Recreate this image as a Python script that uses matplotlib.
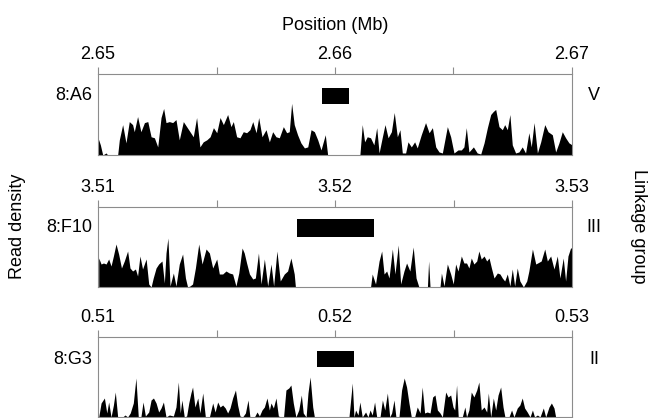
import numpy as np
import matplotlib
matplotlib.use('Agg')
import matplotlib.pyplot as plt

plt.rcParams['font.family'] = ['Liberation Sans', 'DejaVu Sans']

# clone names, linkage groups and windows (Mb)
clones = ['8:A6', '8:F10', '8:G3']
groups = ['V', 'III', 'II']
win_start = [2.65, 3.51, 0.51]
win_end = [2.67, 3.53, 0.53]
# insert (black box) extents, Mb
ins_start = [2.65945, 3.5184, 0.51924]
ins_end = [2.6606, 3.52165, 0.5208]

# read density profiles: position in kb from window start, density
a6_kb = [0.00, 0.10, 0.20, 0.34, 0.41, 0.83, 0.90, 1.04, 1.18, 1.32, 1.46, 1.53, 1.67, 1.81,
         1.96, 2.10, 2.24, 2.38, 2.52, 2.66, 2.77, 2.87, 3.01, 3.15, 3.29, 3.43, 3.60, 3.74,
         3.88, 4.02, 4.16, 4.30, 4.44, 4.59, 4.73, 4.87, 5.01, 5.15, 5.29, 5.47, 5.61, 5.71,
         5.85, 5.99, 6.13, 6.27, 6.41, 6.53, 6.67, 6.78, 6.92, 7.09, 7.23, 7.37, 7.51, 7.65,
         7.82, 7.96, 8.07, 8.17, 8.28, 8.42, 8.56, 8.71, 8.85, 8.99, 9.13, 9.27, 9.41, 9.59,
         9.69, 11.05, 11.15, 11.25, 11.36, 11.50, 11.64, 11.76, 11.86, 12.00, 12.11, 12.24,
         12.38, 12.50, 12.63, 12.74, 12.84, 12.98, 13.08, 13.22, 13.36, 13.47, 13.64, 13.82,
         13.97, 14.11, 14.25, 14.39, 14.53, 14.74, 14.88, 15.02, 15.19, 15.33, 15.44, 15.54,
         15.65, 15.84, 16.00, 16.15, 16.29, 16.43, 16.57, 16.68, 16.78, 16.92, 17.06, 17.16,
         17.27, 17.38, 17.48, 17.62, 17.76, 17.90, 18.04, 18.18, 18.28, 18.40, 18.54, 18.68,
         18.85, 18.99, 19.17, 19.31, 19.45, 19.59, 19.73, 19.87, 20.00]
a6_dens = [17, 10, 0, 2, 0, 0, 15, 30, 12, 33, 30, 23, 38, 23,
           32, 33, 18, 17, 8, 37, 46, 32, 33, 32, 35, 15, 33, 28,
           23, 18, 37, 8, 13, 15, 18, 27, 22, 37, 30, 40, 28, 33,
           18, 17, 23, 22, 25, 33, 22, 37, 18, 25, 13, 23, 18, 17,
           28, 22, 23, 51, 30, 20, 12, 7, 8, 25, 23, 15, 5, 20,
           0, 0, 30, 13, 18, 17, 10, 27, 2, 18, 30, 17,
           23, 42, 18, 25, 2, 2, 13, 8, 13, 7, 20, 32,
           22, 27, 8, 3, 2, 28, 18, 2, 5, 5, 8, 27,
           3, 8, 2, 1, 12, 27, 40, 43, 45, 28, 25, 30,
           25, 40, 10, 2, 3, 8, 2, 22, 8, 32, 2, 13,
           30, 23, 20, 3, 12, 23, 17, 12, 10]

f10_kb = [0.03, 0.13, 0.23, 0.34, 0.45, 0.55, 0.65, 0.76, 0.87, 0.99, 1.11, 1.25, 1.35, 1.46,
          1.58, 1.67, 1.77, 1.88, 2.03, 2.14, 2.24, 2.33, 2.45, 2.56, 2.70, 2.80, 2.87, 2.95,
          3.04, 3.18, 3.29, 3.43, 3.57, 3.69, 3.78, 3.88, 3.99, 4.11, 4.25, 4.39, 4.56, 4.70,
          4.84, 5.01, 5.12, 5.26, 5.40, 5.54, 5.68, 5.82, 5.94, 6.08, 6.17, 6.27, 6.39, 6.53,
          6.64, 6.77, 6.88, 7.02, 7.16, 7.30, 7.41, 7.55, 7.69, 7.86, 8.00, 8.14, 8.28, 8.33,
          11.50, 11.57, 11.71, 11.86, 11.97, 12.07, 12.18, 12.28, 12.42, 12.53, 12.67, 12.77,
          12.91, 13.02, 13.16, 13.30, 13.42, 13.54, 13.90, 13.95, 14.01, 14.43, 14.49, 14.60,
          14.74, 14.88, 14.99, 15.09, 15.19, 15.33, 15.44, 15.55, 15.65, 15.75, 15.86, 15.98,
          16.07, 16.17, 16.29, 16.40, 16.50, 16.60, 16.71, 16.85, 16.96, 17.06, 17.16, 17.27,
          17.38, 17.48, 17.58, 17.69, 17.80, 17.95, 18.09, 18.18, 18.33, 18.47, 18.55, 18.70,
          18.85, 18.96, 19.10, 19.24, 19.38, 19.49, 19.63, 19.73, 19.83, 19.94, 20.00]
f10_dens = [29, 23, 24, 23, 28, 21, 31, 43, 33, 19, 26, 36, 19, 16,
            18, 11, 31, 18, 28, 3, 0, 9, 19, 23, 26, 4, 34, 49,
            1, 14, 1, 23, 33, 9, 0, 1, 3, 19, 43, 23, 38, 34,
            19, 28, 13, 13, 16, 14, 13, 1, 14, 39, 34, 24, 13, 8,
            9, 34, 3, 28, 1, 23, 1, 36, 6, 13, 16, 29, 13, 0,
            0, 13, 3, 26, 36, 13, 16, 9, 38, 13, 42, 3,
            16, 24, 16, 40, 9, 0, 0, 26, 0, 0, 14, 1,
            23, 13, 3, 23, 16, 31, 24, 24, 19, 29, 23, 26,
            36, 28, 31, 26, 29, 19, 9, 14, 13, 9, 6, 13,
            1, 18, 1, 19, 6, 0, 6, 16, 38, 23, 24, 26,
            38, 26, 31, 18, 31, 9, 29, 6, 31, 39, 39]

g3_kb = [0.03, 0.13, 0.27, 0.37, 0.45, 0.55, 0.65, 0.73, 0.83, 1.04, 1.14, 1.25, 1.36, 1.49,
         1.60, 1.70, 1.81, 1.90, 2.00, 2.14, 2.24, 2.34, 2.45, 2.56, 2.66, 2.76, 2.87, 3.01,
         3.18, 3.29, 3.39, 3.47, 3.54, 3.64, 3.74, 3.83, 3.92, 3.99, 4.09, 4.21, 4.30, 4.42,
         4.53, 4.70, 4.84, 4.94, 5.05, 5.15, 5.26, 5.37, 5.47, 5.57, 5.68, 5.80, 5.89, 5.99,
         6.10, 6.22, 6.33, 6.41, 6.60, 6.71, 6.81, 6.92, 7.02, 7.13, 7.23, 7.30, 7.40, 7.51,
         7.61, 7.72, 7.83, 7.93, 8.05, 8.14, 8.24, 8.35, 8.47, 8.58, 8.66, 8.78, 8.86, 8.95,
         9.06, 9.13, 10.59, 10.73, 10.80, 10.87, 10.97, 11.05, 11.15, 11.29, 11.39, 11.48,
         11.57, 11.67, 11.76, 11.90, 12.00, 12.10, 12.21, 12.31, 12.39, 12.49, 12.57, 12.70,
         12.81, 12.92, 13.02, 13.12, 13.22, 13.36, 13.47, 13.59, 13.68, 13.78, 13.89, 14.01,
         14.12, 14.22, 14.32, 14.43, 14.53, 14.67, 14.77, 14.88, 14.98, 15.05, 15.13, 15.20,
         15.37, 15.48, 15.55, 15.65, 15.75, 15.86, 15.98, 16.07, 16.17, 16.29, 16.40, 16.47,
         16.57, 16.68, 16.78, 16.88, 16.99, 17.09, 17.17, 17.34, 17.45, 17.55, 17.69, 17.80,
         17.90, 18.00, 18.11, 18.23, 18.33, 18.42, 18.54, 18.65, 18.79, 18.89, 19.03, 19.13,
         19.24, 19.31, 20.00]
g3_dens = [0, 14, 19, 4, 15, 0, 12, 25, 0, 0, 2, 0, 4, 14,
           39, 0, 0, 15, 1, 5, 17, 19, 14, 5, 9, 15, 0, 2,
           1, 10, 35, 4, 17, 0, 1, 14, 24, 30, 10, 19, 4, 24,
           0, 0, 14, 5, 15, 10, 12, 9, 4, 9, 19, 27, 12, 1,
           0, 4, 17, 0, 0, 5, 1, 7, 10, 19, 7, 14, 9, 19,
           1, 0, 0, 27, 29, 32, 14, 0, 7, 22, 4, 0, 24, 40,
           10, 0, 0, 34, 0, 7, 2, 15, 0, 5, 0, 7,
           2, 15, 0, 0, 17, 7, 24, 0, 4, 17, 0, 0,
           27, 39, 30, 14, 0, 0, 10, 4, 30, 4, 5, 4,
           20, 22, 7, 4, 0, 25, 20, 22, 10, 7, 32, 0,
           0, 10, 0, 7, 25, 20, 27, 35, 7, 10, 5, 24,
           0, 19, 7, 22, 30, 10, 0, 0, 7, 0, 9, 12,
           19, 9, 5, 0, 7, 0, 2, 0, 9, 0, 10, 14,
           9, 0, 0]

profiles_kb = [a6_kb, f10_kb, g3_kb]
profiles = [a6_dens, f10_dens, g3_dens]

W, H = 650, 418
fig = plt.figure(figsize=(W / 100, H / 100), dpi=100)

ax_left, ax_right = 98, 572
ax_rows = [(74, 155), (207, 287), (337, 417)]   # top, bottom in px
box_frac = [(0.63, 0.83), (0.625, 0.85), (0.625, 0.825)]
spine_col = '#8c8c8c'
fs = 13

for i in range(3):
    top, bot = ax_rows[i]
    ax = fig.add_axes([ax_left / W, 1 - bot / H, (ax_right - ax_left) / W, (bot - top) / H])
    x = win_start[i] + np.array(profiles_kb[i]) / 1000.0
    y = np.array(profiles[i])
    ax.fill_between(x, 0, y, color='black', linewidth=0)
    ax.axvspan(ins_start[i], ins_end[i], ymin=box_frac[i][0], ymax=box_frac[i][1],
               color='black', linewidth=0)
    ax.set_xlim(win_start[i], win_end[i])
    ax.set_ylim(0, 80)
    mid = (win_start[i] + win_end[i]) / 2
    ax.set_xticks([win_start[i], mid, win_end[i]])
    ax.set_xticklabels([f'{v:.2f}' for v in [win_start[i], mid, win_end[i]]])
    ax.set_xticks([(win_start[i] + mid) / 2, (mid + win_end[i]) / 2], minor=True)
    ax.xaxis.tick_top()
    ax.tick_params(axis='x', which='both', direction='out', length=5, width=0.8,
                   color=spine_col, labelsize=fs, pad=3)
    ax.set_yticks([])
    for s in ax.spines.values():
        s.set_color(spine_col)
        s.set_linewidth(0.8)
    yc = 1 - (bot - (bot - top) * np.mean(box_frac[i])) / H
    fig.text((ax_left - 6) / W, yc, clones[i], ha='right', va='center', fontsize=fs)
    fig.text((ax_right + 22) / W, yc, groups[i], ha='center', va='center', fontsize=fs)

fig.text((ax_left + ax_right) / 2 / W, 1 - 25 / H, 'Position (Mb)', ha='center',
         va='center', fontsize=fs)
fig.text(18 / W, 1 - 226 / H, 'Read density', rotation=90, ha='center', va='center',
         fontsize=fs)
fig.text(638 / W, 1 - 226 / H, 'Linkage group', rotation=270, ha='center', va='center',
         fontsize=fs)

fig.savefig('out.png', dpi=100)
